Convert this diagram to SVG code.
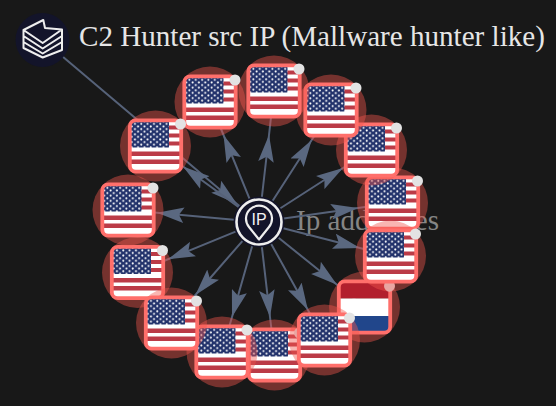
<svg xmlns="http://www.w3.org/2000/svg" width="556" height="406" viewBox="0 0 556 406">
<style>
.bg{fill:#181818}
.edge{fill:none;stroke:#566279;stroke-width:2;marker-mid:url(#head)}
.halo{fill:#f2564c;opacity:.43}
.frame{fill:none;stroke:#ff6f6b;stroke-width:3.8}
.badge{fill:#e3e3e3}
.t{font-family:"Liberation Serif","Times New Roman",serif;font-size:29.1px}
.hub{fill:#13142a}
.line{fill:none;stroke:#eee;stroke-linejoin:round}
</style>
<defs>
<marker id="head" viewBox="0 -8 27 16" refX="27" refY="0" markerUnits="userSpaceOnUse" markerWidth="27" markerHeight="16" orient="auto"><path d="M27,0L0,-7.8L5,0L0,7.800Z" fill="#5a6880"/></marker>
<pattern id="stars" width="6.34" height="5.2" patternUnits="userSpaceOnUse"><rect width="6.34" height="5.2" fill="#22326b"/><circle cx="1.6" cy="1.3" r="1" fill="#fff"/><circle cx="4.77" cy="3.9" r="1" fill="#fff"/></pattern>
<clipPath id="in"><rect x="-24.5" y="-24.5" width="49" height="49" rx="4"/></clipPath>
<g id="us"><circle class="halo" r="35.5"/><g clip-path="url(#in)"><rect x="-24.5" y="-24.5" width="49" height="49" fill="#fff"/><path d="M-24.5,-20.5h49v4h-49zM-24.5,-12.5h49v4h-49zM-24.5,-4.5h49v4h-49zM-24.5,5.5h49v4.4h-49zM-24.5,13.5h49v4.400h-49z" fill="#bb3b47"/><rect x="-24.5" y="-24.5" width="38" height="26" fill="url(#stars)"/></g><rect class="frame" x="-25.7" y="-25.7" width="51.400" height="51.400" rx="6"/><circle class="badge" cx="25" cy="-22" r="5.500"/></g>
<g id="nl"><circle class="halo" r="35.500"/><g clip-path="url(#in)"><rect x="-24.5" y="-24.5" width="49" height="16" fill="#b21f2d"/><rect x="-24.5" y="-8.5" width="49" height="17.500" fill="#fff"/><rect x="-24.5" y="9" width="49" height="16" fill="#21468b"/></g><rect class="frame" x="-25.7" y="-25.7" width="51.400" height="51.400" rx="6"/><circle class="badge" cx="25" cy="-21" r="5.500"/></g>
</defs>
<rect class="bg" width="556" height="406"/>
<text class="t" x="79" y="46" fill="#e6e6e6">C2 Hunter src IP (Mallware hunter like)</text>
<text class="t" x="296" y="230" fill="#858585">Ip addresses</text>
<g id="connectors">
<path class="edge" d="M43,40L237,204L259,222"/>
<path class="edge" d="M259,222L183,166.500L155.500,146"/>
<path class="edge" d="M259,222L223.500,135L210,102"/>
<path class="edge" d="M259,222L269,135L274,91"/>
<path class="edge" d="M259,222L311.700,140L331,110"/>
<path class="edge" d="M259,222L343,168L371.500,150"/>
<path class="edge" d="M259,222L358,208L392.500,203"/>
<path class="edge" d="M259,222L360,248L390.500,256"/>
<path class="edge" d="M259,222L337,284.800L364.500,307"/>
<path class="edge" d="M259,222L307.900,310L324.500,340"/>
<path class="edge" d="M259,222L270,317L274.500,355"/>
<path class="edge" d="M259,222L232,317L222,352"/>
<path class="edge" d="M259,222L195.400,295L171,323"/>
<path class="edge" d="M259,222L168,259.300L137,272"/>
<path class="edge" d="M259,222L157,212.700L128,210"/>
</g>
<g id="node-10"><use href="#us" x="274.500" y="355"/></g>
<g id="node-nl"><use href="#nl" x="364.500" y="307"/></g>
<g id="node-6"><use href="#us" x="392.500" y="203"/></g>
<g id="node-7"><use href="#us" x="390.500" y="256"/></g>
<g id="node-9"><use href="#us" x="324.500" y="340"/></g>
<g id="node-11"><use href="#us" x="222" y="352"/></g>
<g id="node-5"><use href="#us" x="371.500" y="150"/></g>
<g id="node-4"><use href="#us" x="331" y="110"/></g>
<g id="node-3"><use href="#us" x="274" y="91"/></g>
<g id="node-2"><use href="#us" x="210" y="102"/></g>
<g id="node-1"><use href="#us" x="155.500" y="146"/></g>
<g id="node-13"><use href="#us" x="137.500" y="272.500"/></g>
<g id="node-12"><use href="#us" x="171.500" y="323"/></g>
<g id="node-14"><use href="#us" x="128" y="210"/></g>
<g id="node-hunter"><circle class="hub" cx="42.500" cy="40" r="27"/><path class="line" stroke-width="2" d="M23.500,30L43.300,20L45,28L62,29.500V50L42.700,57.500L23.500,48ZM23.500,30L42.700,43L62,29.500M23.500,36L42.700,48.500L62,36M23.500,42L42.700,53.500L62,42"/></g>
<g id="node-ip"><circle class="hub" cx="259" cy="222" r="25.500"/><circle class="line" cx="259" cy="222" r="22.500" stroke-width="2.600"/><path class="line" stroke-width="2.200" d="M259,239.500L249,227A13,13 0 1 1 269,227Z"/><text x="259" y="225" text-anchor="middle" font-family="'Liberation Sans',Arial,sans-serif" font-size="16" fill="#f2f2f2">IP</text></g>
</svg>
